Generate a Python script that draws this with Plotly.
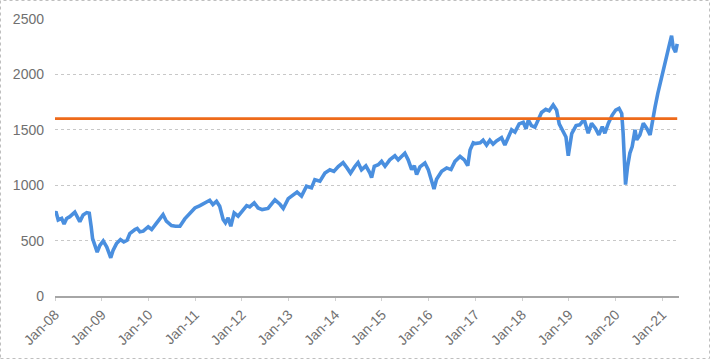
import plotly.graph_objects as go

# ---- data ----
dates = [
    "2008-01-01", "2008-01-08", "2008-01-26", "2008-02-22", "2008-03-12", "2008-04-01", "2008-04-26",
    "2008-06-04", "2008-07-13", "2008-08-08", "2008-09-05", "2008-09-25", "2008-10-10", "2008-10-21",
    "2008-11-08", "2008-11-26", "2008-12-17", "2009-01-12", "2009-02-09", "2009-02-27", "2009-03-12",
    "2009-03-30", "2009-04-26", "2009-05-27", "2009-06-22", "2009-07-18", "2009-08-08", "2009-09-17",
    "2009-10-05", "2009-10-26", "2009-11-21", "2009-12-30", "2010-01-26", "2010-02-27", "2010-03-24",
    "2010-04-25", "2010-05-21", "2010-06-30", "2010-08-01", "2010-09-04", "2010-10-12", "2010-11-21",
    "2010-12-30", "2011-02-08", "2011-03-17", "2011-04-25", "2011-05-20", "2011-06-17", "2011-07-12",
    "2011-08-08", "2011-08-26", "2011-09-16", "2011-10-07", "2011-11-02", "2011-12-03", "2012-01-04",
    "2012-02-08", "2012-03-03", "2012-04-07", "2012-05-07", "2012-06-08", "2012-07-24", "2012-09-16",
    "2012-10-25", "2012-11-20", "2012-12-29", "2013-02-07", "2013-03-08", "2013-04-12", "2013-05-21",
    "2013-06-29", "2013-07-25", "2013-09-03", "2013-10-12", "2013-11-20", "2013-12-21", "2014-01-24",
    "2014-03-03", "2014-04-04", "2014-04-30", "2014-06-03", "2014-06-28", "2014-07-25", "2014-08-28",
    "2014-09-29", "2014-10-12", "2014-11-02", "2014-12-03", "2014-12-29", "2015-01-25", "2015-03-03",
    "2015-04-12", "2015-05-08", "2015-06-04", "2015-06-29", "2015-07-25", "2015-08-21", "2015-09-11",
    "2015-09-29", "2015-10-25", "2015-12-03", "2015-12-29", "2016-01-20", "2016-02-12", "2016-03-03",
    "2016-04-12", "2016-05-21", "2016-06-24", "2016-07-25", "2016-09-03", "2016-10-06", "2016-11-02",
    "2016-11-20", "2016-12-15", "2016-12-28", "2017-02-07", "2017-03-02", "2017-03-29", "2017-04-24",
    "2017-05-19", "2017-06-15", "2017-07-24", "2017-08-19", "2017-09-14", "2017-10-11", "2017-11-06",
    "2017-12-09", "2018-01-10", "2018-02-01", "2018-02-19", "2018-03-15", "2018-04-11", "2018-05-06",
    "2018-06-02", "2018-07-05", "2018-08-01", "2018-09-01", "2018-09-28", "2018-10-18", "2018-11-14",
    "2018-12-10", "2018-12-28", "2019-01-24", "2019-02-27", "2019-03-28", "2019-05-01", "2019-06-02",
    "2019-06-28", "2019-07-29", "2019-08-24", "2019-09-20", "2019-10-10", "2019-11-06", "2019-12-07",
    "2020-01-03", "2020-01-29", "2020-02-19", "2020-03-01", "2020-03-09", "2020-03-20", "2020-04-05",
    "2020-04-23", "2020-05-11", "2020-06-02", "2020-06-15", "2020-07-10", "2020-08-06", "2020-09-02",
    "2020-09-28", "2020-10-15", "2020-11-06", "2020-11-27", "2020-12-15", "2021-01-02", "2021-01-18",
    "2021-02-06", "2021-02-24", "2021-03-15", "2021-03-27", "2021-04-15", "2021-04-28",
]
values = [
    750, 762, 686, 700, 650, 700, 716,
    756, 671, 732, 753, 747, 625, 518,
    457, 396, 457, 497, 442, 396, 345,
    412, 473, 509, 488, 503, 564, 600,
    610, 579, 585, 625, 600, 649, 686,
    735, 675, 636, 630, 630, 696, 750,
    795, 816, 840, 864, 825, 855, 810,
    690, 660, 705, 630, 750, 720, 765,
    816, 804, 840, 795, 780, 790, 867,
    828, 790, 879, 908, 938, 902, 991,
    976, 1050, 1036, 1109, 1139, 1124, 1169,
    1204, 1154, 1109, 1169, 1204, 1139, 1175,
    1109, 1068, 1171, 1185, 1215, 1171, 1229,
    1265, 1229, 1259, 1288, 1229, 1141, 1176,
    1097, 1165, 1200, 1141, 1053, 965, 1053,
    1126, 1156, 1141, 1215, 1259, 1229, 1176,
    1318, 1382, 1376, 1382, 1406, 1362, 1406,
    1371, 1400, 1429, 1362, 1435, 1500, 1479,
    1553, 1568, 1509, 1588, 1538, 1524, 1597,
    1656, 1685, 1671, 1724, 1676, 1553, 1494,
    1435, 1265, 1465, 1538, 1545, 1594, 1469,
    1558, 1513, 1454, 1528, 1469, 1558, 1633,
    1678, 1693, 1648, 1469, 1230, 1006, 1170,
    1290, 1349, 1499, 1409, 1454, 1558, 1513,
    1454, 1588, 1707, 1827, 1916, 2006, 2110,
    2200, 2260, 2349, 2245, 2200, 2275,
]
threshold = 1600
x_range = ["2008-01-01", "2021-05-12"]
y_ticks = [0, 500, 1000, 1500, 2000, 2500]

fig = go.Figure()
fig.add_trace(go.Scatter(
    x=dates, y=values, mode="lines",
    line=dict(color="#4A8FDF", width=3.6),
    showlegend=False, hoverinfo="skip",
))
fig.add_trace(go.Scatter(
    x=[dates[0], dates[-1]], y=[threshold, threshold], mode="lines",
    line=dict(color="#EE6A1A", width=2.8),
    showlegend=False, hoverinfo="skip",
))

font = dict(family="Liberation Sans, Arial, sans-serif", size=14, color="#707070")
fig.update_layout(
    width=710, height=359,
    margin=dict(l=55, r=31, t=19, b=63),
    paper_bgcolor="white", plot_bgcolor="white",
    font=font,
    xaxis=dict(
        type="date", range=x_range, automargin=False,
        tickformat="%b-%y", dtick="M12", tick0="2008-01-01",
        tickangle=-45, tickfont=font,
        showgrid=False, zeroline=False,
        showline=True, linecolor="#A6A6A6", linewidth=2,
        ticks="outside", ticklen=3, tickcolor="#D0D0D0",
    ),
    yaxis=dict(
        range=[0, 2500], tickvals=y_ticks, tickfont=font, automargin=False,
        showgrid=True, gridcolor="#C8C8C8", griddash="dot", gridwidth=1,
        zeroline=False, showline=False, ticks="", ticklabelstandoff=10,
    ),
    shapes=[dict(
        type="rect", xref="paper", yref="paper",
        x0=(0.5 - 55) / 624, x1=(709.5 - 55) / 624,
        y0=(296 - 358.5) / 277, y1=(296 - 0.5) / 277,
        line=dict(color="#BFBFBF", width=1, dash="dot"),
        fillcolor="rgba(0,0,0,0)", layer="below",
    )],
)

fig.write_html(
    "out.html",
    config={"displayModeBar": False, "staticPlot": True},
    post_script="document.body.style.margin='0';document.body.style.overflow='hidden';",
)
